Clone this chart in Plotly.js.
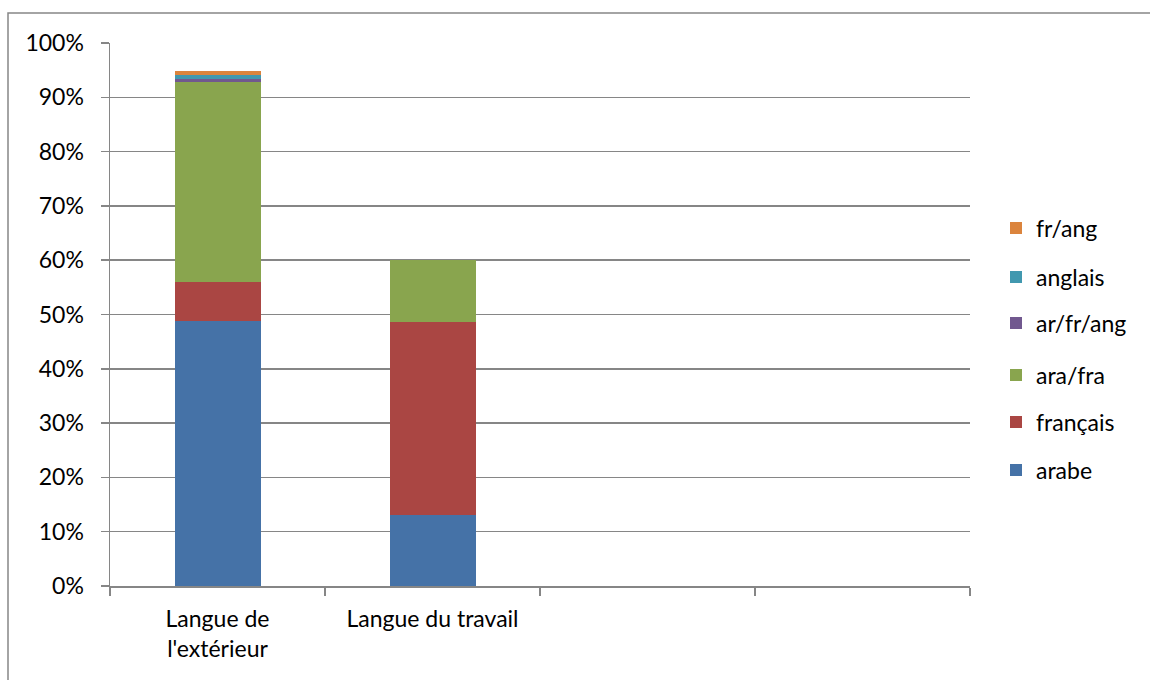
<!DOCTYPE html>
<html>
<head>
<meta charset="utf-8">
<script src="https://cdn.plot.ly/plotly-3.0.1.min.js"></script>
<style>
html,body{margin:0;padding:0;background:#fff;}
#chart{width:1150px;height:680px;}
</style>
</head>
<body>
<div id="chart"></div>
<script>
const categories = ["Langue de<br>l'extérieur", "Langue du travail", " ", "  "];
const seriesNames = ["arabe", "français", "ara/fra", "ar/fr/ang", "anglais", "fr/ang"];
const arabe     = [48.8, 13.1];
const francais  = [7.1, 35.6];
const araFra    = [36.9, 11.3];
const arFrAng   = [0.6, 0.0];
const anglais   = [0.7, 0.0];
const frAng     = [0.7, 0.0];
const seriesValues = [arabe, francais, araFra, arFrAng, anglais, frAng];
const colors = ["#4572A7", "#AA4643", "#89A54E", "#71588F", "#4198AF", "#DB843D"];

const FONT = "Lato, 'Open Sans', sans-serif";
const FS = 23;

const legendIds = ["legend", "legend2", "legend3", "legend4", "legend5", "legend6"];

const traces = seriesNames.map((name, i) => ({
  type: "bar",
  name: name,
  x: categories.slice(0, 2),
  y: seriesValues[i],
  marker: {color: colors[i], line: {width: 0}},
  legend: legendIds[i],
  hoverinfo: "skip"
}));

const L = 110, R = 970, T = 43, B = 586, W = 1150, H = 680;
const pw = R - L, ph = B - T;

const layout = {
  width: W, height: H,
  margin: {l: L, r: W - R, t: T, b: H - B, pad: 0},
  paper_bgcolor: "#fff",
  plot_bgcolor: "#fff",
  barmode: "stack",
  bargap: 0.6,
  showlegend: true,
  font: {family: FONT, size: FS, color: "#000"},
  xaxis: {
    type: "category",
    categoryorder: "array",
    categoryarray: categories,
    range: [-0.5, 3.5],
    tickson: "boundaries",
    ticks: "outside",
    ticklen: 8,
    tickcolor: "#868686",
    tickwidth: 1.5,
    showline: true,
    linecolor: "#868686",
    linewidth: 1.5,
    showgrid: false,
    zeroline: false,
    ticklabelstandoff: 12,
    tickfont: {family: FONT, size: FS, color: "#000"},
    fixedrange: true
  },
  yaxis: {
    range: [0, 100],
    dtick: 10,
    tick0: 0,
    ticksuffix: "%",
    ticks: "outside",
    ticklen: 8,
    tickcolor: "#868686",
    tickwidth: 1.5,
    showline: true,
    linecolor: "#868686",
    linewidth: 1.5,
    showgrid: true,
    gridcolor: "#868686",
    gridwidth: 1.5,
    zeroline: false,
    ticklabelstandoff: 12,
    tickfont: {family: FONT, size: FS, color: "#000"},
    fixedrange: true
  },
  shapes: [{
    type: "rect",
    xref: "paper", yref: "paper",
    x0: (8 - L) / pw, x1: (1200 - L) / pw,
    y0: (B - 720) / ph, y1: (B - 13) / ph,
    line: {color: "#868686", width: 1.5},
    fillcolor: "rgba(0,0,0,0)",
    layer: "below"
  }]
};

// one legend box per series, stacked top (fr/ang) to bottom (arabe)
const legendCenters = [470, 422, 375, 323, 277, 228];
legendIds.forEach((id, i) => {
  layout[id] = {
    x: (996 - L) / pw,
    xanchor: "left",
    y: (B - legendCenters[i]) / ph,
    yanchor: "middle",
    font: {family: FONT, size: FS, color: "#000"},
    bgcolor: "rgba(0,0,0,0)",
    itemwidth: 30
  };
});

Plotly.newPlot("chart", traces, layout, {displayModeBar: false, staticPlot: true});
</script>
</body>
</html>
